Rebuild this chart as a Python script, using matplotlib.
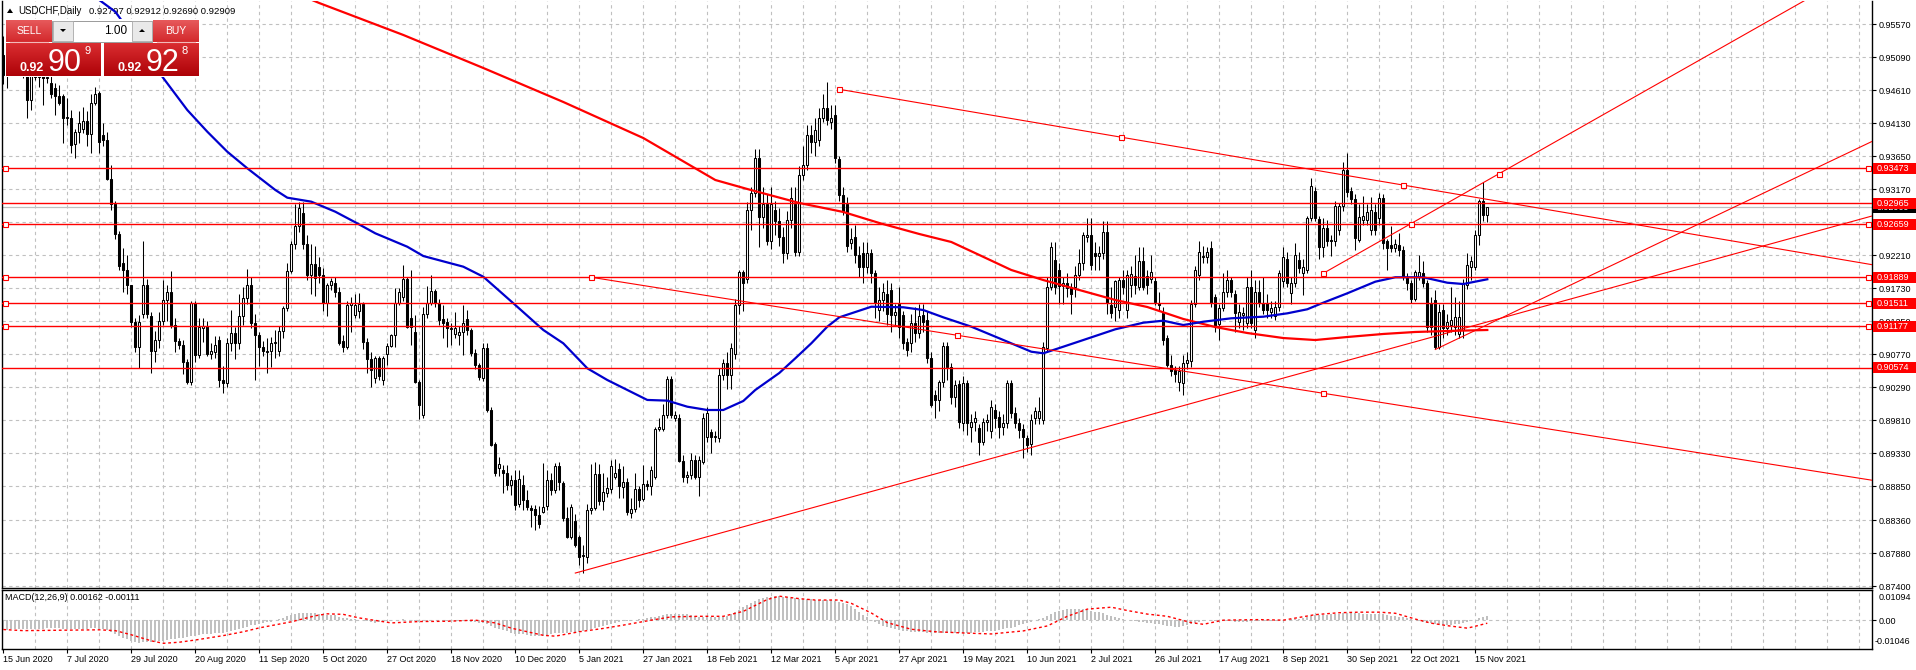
import numpy as np
import matplotlib.pyplot as plt
import matplotlib.transforms as mtransforms
from matplotlib.patches import Rectangle, Polygon

plt.rcParams['font.family'] = ['Liberation Sans', 'DejaVu Sans']

# ---------------- data ----------------
opens = [
    .9512, .9483, .9495, .9505, .9490, .9498, .9495, .9447, .9485, .9480,
    .9482, .9478, .9471, .9464, .9452, .9452, .9420, .9420, .9382, .9400,
    .9404, .9416, .9397, .9442, .9457, .9396, .9389, .9332, .9295, .9252,
    .9209, .9199, .9178, .9124, .9088, .9135, .9177, .9132, .9082, .9098,
    .9125, .9156, .9167, .9119, .9096, .9091, .9066, .9037, .9151, .9076,
    .9115, .9118, .9078, .9081, .9098, .9040, .9035, .9093, .9108, .9093,
    .9132, .9159, .9178, .9122, .9105, .9088, .9081, .9082, .9093, .9082,
    .9111, .9144, .9198, .9237, .9264, .9282, .9237, .9192, .9208, .9204,
    .9192, .9151, .9178, .9180, .9168, .9097, .9088, .9149, .9134, .9140,
    .9150, .9095, .9070, .9042, .9071, .9040, .9077, .9089, .9105, .9152,
    .9160, .9186, .9129, .9110, .9037, .8989, .9136, .9152, .9169, .9151,
    .9128, .9124, .9115, .9106, .9105, .9110, .9128, .9112, .9079, .9061,
    .9042, .9086, .8996, .8946, .8912, .8909, .8904, .8887, .8894, .8859,
    .8887, .8865, .8853, .8852, .8844, .8848, .8856, .8894, .8880, .8914,
    .8890, .8839, .8812, .8834, .8812, .8785, .8783, .8850, .8853, .8903,
    .8863, .8875, .8881, .8899, .8910, .8884, .8892, .8847, .8852, .8881,
    .8866, .8889, .8886, .8899, .8969, .8969, .8989, .9041, .8985, .8985,
    .8922, .8898, .8902, .8923, .8899, .8921, .8957, .8964, .8957, .8956,
    .9047, .9064, .9047, .9078, .9149, .9197, .9186, .9287, .9311, .9362,
    .9277, .9296, .9241, .9287, .9270, .9248, .9224, .9272, .9296, .9226,
    .9338, .9352, .9396, .9386, .9388, .9420, .9435, .9414, .9425, .9361,
    .9309, .9296, .9239, .9248, .9221, .9224, .9204, .9224, .9195, .9141,
    .9156, .9165, .9170, .9134, .9150, .9134, .9095, .9093, .9122, .9108,
    .9134, .9127, .9071, .9018, .9010, .9037, .9089, .9059, .9015, .9034,
    .8977, .9035, .8972, .8979, .8970, .8950, .8979, .8965, .8996, .8986,
    .8972, .8977, .9035, .8991, .8977, .8968, .8955, .8947, .8984, .8984,
    .8982, .9086, .9175, .9214, .9200, .9176, .9180, .9175, .9175, .9192,
    .9209, .9248, .9250, .9224, .9220, .9224, .9255, .9149, .9146, .9141,
    .9185, .9141, .9178, .9191, .9175, .9213, .9191, .9187, .9183, .9152,
    .9137, .9100, .9061, .9054, .9037, .9035, .9064, .9067, .9150, .9192,
    .9219, .9219, .9232, .9160, .9121, .9144, .9167, .9185, .9164, .9124,
    .9134, .9123, .9175, .9112, .9168, .9151, .9151, .9139, .9132, .9146,
    .9183, .9216, .9166, .9180, .9214, .9195, .9200, .9275, .9315, .9273,
    .9233, .9260, .9243, .9241, .9258, .9292, .9345, .9314, .9303, .9243,
    .9272, .9272, .9258, .9284, .9275, .9304, .9241, .9236, .9231, .9236,
    .9229, .9190, .9180, .9158, .9190, .9195, .9180, .9151, .9156, .9088,
    .9141, .9115, .9120, .9117, .9107, .9112, .9178, .9204, .9204, .9250,
    .9300, .92797,
]
highs = [
    .9540, .9510, .9520, .9525, .9515, .9510, .9505, .9500, .9495, .9490,
    .9500, .9490, .9482, .9471, .9468, .9455, .9449, .9432, .9405, .9430,
    .9437, .9430, .9456, .9466, .9459, .9413, .9400, .9352, .9300, .9256,
    .9231, .9221, .9178, .9130, .9134, .9241, .9187, .9139, .9111, .9139,
    .9185, .9178, .9198, .9130, .9101, .9098, .9070, .9154, .9154, .9129,
    .9130, .9126, .9094, .9104, .9104, .9060, .9100, .9142, .9116, .9164,
    .9175, .9201, .9190, .9135, .9110, .9097, .9100, .9102, .9112, .9118,
    .9147, .9210, .9242, .9296, .9298, .9298, .9250, .9237, .9234, .9219,
    .9202, .9180, .9188, .9190, .9175, .9105, .9155, .9160, .9165, .9166,
    .9153, .9100, .9080, .9075, .9075, .9075, .9093, .9107, .9173, .9173,
    .9207, .9190, .9199, .9134, .9040, .9146, .9176, .9192, .9172, .9158,
    .9149, .9130, .9122, .9139, .9118, .9149, .9141, .9115, .9085, .9065,
    .9093, .9093, .9000, .8950, .8928, .8916, .8916, .8901, .8909, .8909,
    .8901, .8880, .8858, .8858, .8856, .8919, .8909, .8904, .8919, .8920,
    .8893, .8855, .8860, .8845, .8815, .8800, .8860, .8918, .8921, .8918,
    .8904, .8899, .8923, .8925, .8919, .8914, .8897, .8868, .8904, .8885,
    .8916, .8894, .8914, .8971, .8985, .9004, .9045, .9045, .8995, .8990,
    .8930, .8908, .8933, .8930, .8929, .8991, .9000, .8969, .8965, .9057,
    .9070, .9081, .9094, .9158, .9200, .9200, .9299, .9320, .9376, .9375,
    .9320, .9310, .9320, .9300, .9290, .9262, .9285, .9320, .9320, .9350,
    .9380, .9410, .9410, .9420, .9435, .9455, .9473, .9440, .9440, .9365,
    .9320, .9305, .9260, .9265, .9235, .9240, .9240, .9230, .9200, .9175,
    .9180, .9185, .9180, .9150, .9175, .9140, .9100, .9135, .9145, .9150,
    .9150, .9140, .9080, .9025, .9040, .9095, .9095, .9065, .9040, .9040,
    .9045, .9040, .8990, .8995, .8975, .8985, .8990, .9010, .9005, .8995,
    .8990, .9040, .9040, .9000, .8985, .8975, .8960, .8990, .9000, .9015,
    .9095, .9190, .9240, .9240, .9210, .9190, .9195, .9180, .9205, .9230,
    .9255, .9275, .9275, .9240, .9235, .9270, .9270, .9175, .9185, .9190,
    .9200, .9200, .9205, .9222, .9233, .9233, .9200, .9221, .9190, .9168,
    .9145, .9105, .9076, .9060, .9060, .9076, .9080, .9156, .9205, .9241,
    .9235, .9233, .9241, .9165, .9150, .9195, .9199, .9190, .9170, .9150,
    .9145, .9190, .9200, .9185, .9185, .9190, .9165, .9155, .9155, .9200,
    .9233, .9225, .9190, .9238, .9225, .9215, .9278, .9333, .9320, .9278,
    .9275, .9272, .9250, .9300, .9297, .9357, .9369, .9320, .9310, .9296,
    .9307, .9296, .9305, .9296, .9311, .9310, .9245, .9263, .9245, .9253,
    .9235, .9195, .9185, .9200, .9222, .9212, .9185, .9160, .9170, .9150,
    .9150, .9135, .9175, .9160, .9155, .9187, .9224, .9220, .9258, .9303,
    .9328, .92912,
]
lows = [
    .9470, .9464, .9485, .9482, .9483, .9478, .9420, .9432, .9476, .9466,
    .9439, .9471, .9450, .9425, .9440, .9384, .9410, .9369, .9362, .9384,
    .9398, .9379, .9369, .9440, .9369, .9380, .9330, .9287, .9245, .9200,
    .9168, .9165, .9116, .9080, .9057, .9130, .9130, .9050, .9066, .9086,
    .9120, .9125, .9115, .9081, .9085, .9049, .9034, .9032, .9066, .9071,
    .9095, .9075, .9070, .9071, .9030, .9020, .9030, .9082, .9070, .9085,
    .9120, .9150, .9115, .9040, .9060, .9075, .9050, .9058, .9072, .9075,
    .9100, .9140, .9195, .9230, .9255, .9230, .9185, .9165, .9162, .9180,
    .9140, .9133, .9170, .9160, .9090, .9080, .9085, .9110, .9130, .9130,
    .9085, .9050, .9030, .9035, .9040, .9032, .9061, .9088, .9088, .9148,
    .9155, .9115, .9090, .9035, .8983, .8984, .9130, .9148, .9145, .9120,
    .9100, .9088, .9090, .9100, .9090, .9076, .9105, .9075, .9056, .9040,
    .9038, .8993, .8943, .8900, .8900, .8875, .8880, .8872, .8850, .8855,
    .8851, .8850, .8826, .8822, .8825, .8846, .8850, .8872, .8875, .8880,
    .8835, .8810, .8808, .8797, .8770, .8759, .8773, .8845, .8850, .8858,
    .8850, .8870, .8876, .8895, .8868, .8868, .8843, .8839, .8848, .8855,
    .8863, .8880, .8873, .8895, .8965, .8965, .8985, .8985, .8980, .8920,
    .8892, .8890, .8895, .8895, .8871, .8918, .8950, .8933, .8950, .8950,
    .9040, .9027, .9026, .9070, .9136, .9140, .9180, .9258, .9305, .9233,
    .9260, .9236, .9230, .9250, .9235, .9210, .9215, .9260, .9220, .9220,
    .9330, .9345, .9370, .9365, .9380, .9415, .9410, .9405, .9355, .9300,
    .9280, .9226, .9230, .9210, .9190, .9180, .9195, .9180, .9130, .9125,
    .9140, .9120, .9110, .9120, .9100, .9085, .9075, .9080, .9095, .9100,
    .9110, .9065, .9000, .8985, .8995, .9030, .9040, .9005, .9000, .8970,
    .8965, .8960, .8950, .8965, .8930, .8945, .8965, .8955, .8970, .8955,
    .8960, .8970, .8985, .8970, .8955, .8926, .8935, .8930, .8975, .8975,
    .8975, .9080, .9170, .9165, .9150, .9150, .9160, .9135, .9160, .9185,
    .9200, .9240, .9200, .9200, .9200, .9215, .9135, .9130, .9125, .9130,
    .9165, .9130, .9160, .9165, .9170, .9170, .9165, .9180, .9149, .9140,
    .9090, .9059, .9045, .9037, .9023, .9018, .9055, .9059, .9145, .9185,
    .9210, .9210, .9145, .9110, .9098, .9140, .9160, .9160, .9110, .9115,
    .9112, .9115, .9115, .9100, .9145, .9135, .9130, .9130, .9127, .9140,
    .9175, .9175, .9150, .9175, .9195, .9163, .9195, .9270, .9270, .9216,
    .9218, .9235, .9220, .9235, .9250, .9285, .9305, .9295, .9229, .9240,
    .9265, .9265, .9250, .9250, .9265, .9230, .9200, .9225, .9225, .9220,
    .9185, .9170, .9151, .9155, .9185, .9175, .9110, .9105, .9084, .9085,
    .9100, .9105, .9110, .9105, .9100, .9100, .9172, .9185, .9200, .9236,
    .9270, .92690,
]
closes = [
    .9483, .9495, .9505, .9490, .9498, .9485, .9447, .9485, .9480, .9482,
    .9478, .9480, .9456, .9452, .9442, .9420, .9422, .9381, .9400, .9413,
    .9416, .9397, .9442, .9455, .9386, .9389, .9332, .9295, .9252, .9206,
    .9199, .9178, .9124, .9088, .9124, .9177, .9135, .9082, .9098, .9125,
    .9156, .9167, .9119, .9096, .9091, .9066, .9037, .9151, .9076, .9117,
    .9118, .9078, .9082, .9091, .9040, .9035, .9093, .9108, .9093, .9132,
    .9159, .9178, .9122, .9105, .9088, .9082, .9082, .9093, .9095, .9111,
    .9144, .9198, .9237, .9264, .9290, .9237, .9192, .9208, .9188, .9192,
    .9151, .9178, .9184, .9168, .9094, .9088, .9149, .9151, .9149, .9150,
    .9095, .9070, .9054, .9071, .9045, .9071, .9089, .9105, .9152, .9168,
    .9186, .9117, .9117, .9037, .9003, .9136, .9152, .9169, .9151, .9127,
    .9123, .9115, .9114, .9115, .9110, .9123, .9112, .9079, .9061, .9044,
    .9086, .8996, .8945, .8905, .8918, .8904, .8887, .8894, .8858, .8896,
    .8865, .8855, .8851, .8843, .8831, .8855, .8894, .8880, .8914, .8892,
    .8839, .8812, .8855, .8800, .8783, .8784, .8850, .8853, .8903, .8863,
    .8877, .8882, .8915, .8905, .8885, .8892, .8848, .8852, .8881, .8865,
    .8889, .8886, .8909, .8969, .8972, .8989, .9041, .8989, .8989, .8922,
    .8898, .8902, .8923, .8899, .8923, .8984, .8991, .8957, .8958, .9047,
    .9064, .9047, .9086, .9149, .9197, .9180, .9287, .9311, .9362, .9277,
    .9296, .9241, .9296, .9270, .9248, .9224, .9272, .9304, .9226, .9338,
    .9352, .9396, .9386, .9403, .9420, .9435, .9418, .9420, .9362, .9309,
    .9285, .9234, .9244, .9221, .9204, .9204, .9224, .9195, .9151, .9156,
    .9168, .9136, .9134, .9139, .9117, .9093, .9083, .9122, .9108, .9132,
    .9124, .9071, .9003, .9010, .9037, .9089, .9059, .9015, .9032, .8979,
    .9035, .8977, .8979, .8985, .8950, .8979, .8982, .9001, .8984, .8972,
    .8977, .9035, .8991, .8977, .8967, .8957, .8945, .8981, .8994, .8994,
    .9088, .9175, .9233, .9175, .9176, .9180, .9173, .9165, .9192, .9209,
    .9250, .9250, .9207, .9220, .9224, .9255, .9151, .9137, .9183, .9185,
    .9175, .9192, .9194, .9178, .9213, .9175, .9178, .9197, .9153, .9149,
    .9098, .9061, .9052, .9049, .9052, .9064, .9069, .9150, .9200, .9226,
    .9220, .9226, .9152, .9117, .9144, .9167, .9185, .9168, .9137, .9139,
    .9137, .9175, .9123, .9168, .9151, .9141, .9141, .9144, .9146, .9195,
    .9219, .9180, .9181, .9221, .9202, .9204, .9275, .9322, .9275, .9233,
    .9260, .9241, .9241, .9292, .9293, .9345, .9313, .9303, .9246, .9277,
    .9278, .9284, .9287, .9258, .9304, .9238, .9231, .9231, .9237, .9229,
    .9190, .9180, .9158, .9197, .9197, .9180, .9117, .9117, .9087, .9139,
    .9115, .9124, .9127, .9131, .9131, .9180, .9207, .9212, .9250, .9300,
    .9279, .92909,
]

# moving averages, sampled along the drawn curves (bar index, price)
red_ma_i = [70, 79, 100, 120, 140, 160, 178, 186, 199, 210, 219, 229, 237, 244, 252,
            260, 269, 278, 286, 295, 303, 311, 320, 328, 336, 345, 353, 361, 371]
red_ma_p = [.96094, .95875, .95411, .94931, .94437, .93913, .93303, .93172, .92969,
            .92838, .92678, .92518, .92402, .92213, .91995, .91849, .91704, .91559,
            .91457, .91283, .91166, .91079, .91006, .90977, .91021, .91065, .91094,
            .91108, .91123]
blue_ma_i = [24, 28, 40, 46, 51, 56, 61, 68, 71, 77, 83, 88, 93, 101, 105, 115, 120,
             128, 135, 140, 146, 151, 156, 161, 166, 171, 176, 180, 185, 188, 194, 198,
             202, 206, 209, 217, 225, 230, 235, 242, 249, 257, 260, 265, 270, 278, 285,
             290, 295, 300, 307, 315, 321, 326, 330, 336, 343, 348, 355, 361, 365, 371]
blue_ma_p = [.95919, .95749, .94785, .94320, .94005, .93714, .93473, .93158, .93046,
             .92988, .92842, .92688, .92528, .92333, .92198, .92043, .91897, .91486,
             .91123, .90929, .90566, .90396, .90251, .90106, .90096, .90008, .89960,
             .89960, .90091, .90251, .90498, .90711, .90929, .91171, .91307, .91461,
             .91453, .91413, .91307, .91171, .91002, .90807, .90784, .90880, .90977,
             .91133, .91229, .91258, .91195, .91243, .91293, .91316, .91365, .91424,
             .91520, .91656, .91825, .91889, .91889, .91810, .91791, .91860]

# MACD main (histogram), units of 1e-3, one value per bar
macd_main = [
    -3.4, -3.4, -3.3, -3.3, -3.2, -3.2, -3.3, -3.3, -3.2, -3.2, -3.1, -3.0, -3.0, -3.0, -3.0, -3.1,
    -3.1, -3.2, -3.3, -3.3, -3.2, -3.1, -3.0, -3.0, -3.1, -3.3, -3.7, -4.3, -5.0, -5.8, -6.5, -7.0,
    -7.6, -8.0, -8.2, -8.1, -8.0, -8.0, -7.8, -7.6, -7.4, -7.1, -6.9, -6.7, -6.5, -6.3, -6.2, -5.8,
    -5.6, -5.3, -5.1, -5.0, -4.9, -4.8, -4.8, -4.7, -4.3, -4.0, -3.6, -3.2, -2.8, -2.3, -1.9, -1.7,
    -1.5, -1.1, -0.8, -0.5, -0.1, 0.3, 0.8, 1.4, 1.9, 2.2, 2.5, 2.6, 2.6, 2.5, 2.5, 2.4,
    2.2, 2.0, 1.8, 1.7, 1.3, 0.9, 0.7, 0.5, 0.4, 0.2, -0.1, -0.4, -0.7, -0.9, -0.8, -0.6,
    -0.4, -0.3, 0.0, 0.2, 0.4, 0.2, 0.0, -0.4, -0.7, -0.4, -0.2, 0.0, 0.0, -0.1, -0.2, -0.3,
    -0.3, -0.3, -0.3, -0.3, -0.4, -0.6, -0.8, -1.0, -1.0, -1.5, -2.1, -2.8, -3.3, -3.7, -4.1, -4.5,
    -4.9, -5.0, -5.2, -5.4, -5.6, -5.7, -5.8, -5.6, -5.3, -5.1, -4.8, -4.6, -4.6, -4.6, -4.4, -4.4,
    -4.2, -4.0, -3.7, -3.3, -2.9, -2.5, -2.1, -1.7, -1.3, -1.0, -0.7, -0.4, -0.2, 0.0, 0.2, 0.4,
    0.6, 0.8, 1.0, 1.3, 1.6, 1.9, 2.1, 2.2, 2.3, 2.3, 2.2, 2.1, 1.8, 1.5, 1.2, 1.1,
    1.0, 1.0, 1.0, 1.0, 1.2, 1.6, 2.2, 2.9, 3.8, 4.6, 5.4, 6.2, 6.9, 7.5, 7.9, 8.3,
    8.5, 8.6, 8.6, 8.5, 8.3, 8.1, 7.9, 7.8, 7.7, 7.6, 7.5, 7.4, 7.3, 7.3, 7.3, 7.2,
    7.0, 6.6, 6.2, 5.7, 5.0, 4.1, 3.1, 2.0, 1.0, 0.0, -0.8, -1.5, -2.1, -2.6, -3.0, -3.3,
    -3.6, -3.9, -4.1, -4.2, -4.3, -4.4, -4.4, -4.5, -4.6, -4.6, -4.6, -4.5, -4.5, -4.5, -4.5, -4.6,
    -4.6, -4.5, -4.5, -4.4, -4.3, -4.2, -4.1, -4.0, -3.8, -3.6, -3.3, -3.0, -2.7, -2.3, -1.9, -1.5,
    -1.0, -0.5, 0.0, 0.4, 0.9, 1.6, 2.4, 3.0, 3.4, 3.7, 3.9, 4.0, 4.0, 4.0, 3.9, 3.7,
    3.4, 3.1, 2.8, 2.5, 2.0, 1.5, 1.1, 0.8, 0.5, 0.2, -0.1, -0.4, -0.6, -0.8, -1.0, -1.1,
    -1.3, -1.5, -1.7, -2.0, -2.2, -2.3, -2.3, -2.2, -1.9, -1.5, -1.0, -0.6, -0.3, -0.1, -0.1, -0.3,
    -0.4, -0.4, -0.4, -0.4, -0.5, -0.5, -0.5, -0.5, -0.4, -0.4, -0.4, -0.4, -0.4, -0.4, -0.4, -0.3,
    -0.1, 0.1, 0.3, 0.5, 0.6, 0.7, 1.0, 1.5, 1.8, 1.9, 2.0, 2.0, 2.1, 2.2, 2.3, 2.5,
    2.6, 2.6, 2.5, 2.5, 2.4, 2.4, 2.3, 2.3, 2.3, 2.1, 1.8, 1.6, 1.4, 1.2, 1.0, 0.7,
    0.3, 0.0, -0.3, -0.6, -0.9, -1.2, -1.5, -1.6, -1.6, -1.6, -1.6, -1.5, -1.4, -1.2, -0.8, -0.4,
    0.2, 0.8, 1.3, 1.62,
]
sig_i = [0, 5, 24, 28, 32, 37, 40, 44, 48, 55, 60, 64, 72, 78, 81, 85, 89, 97, 104, 111,
         118, 123, 127, 135, 138, 144, 150, 155, 162, 167, 174, 180, 185, 191, 194, 199, 203,
         209, 212, 217, 221, 227, 233, 241, 247, 255, 261, 266, 271, 277, 281, 286, 291, 297,
         300, 305, 314, 320, 328, 334, 339, 344, 348, 353, 357, 361, 366, 368, 371]
sig_v = [-3.4, -3.8, -3.5, -3.8, -5.3, -7.5, -8.4, -8.0, -7.2, -5.6, -4.2, -2.8, -0.6, 1.6,
         2.3, 2.1, 0.8, -1.0, -0.5, -0.4, 0.0, -1.0, -2.9, -5.5, -5.8, -4.2, -3.0, -1.8, 0.0,
         1.2, 1.4, 1.4, 3.2, 7.5, 8.7, 7.8, 7.3, 7.3, 6.1, 2.6, -0.9, -3.3, -4.2, -4.7, -5.0,
         -3.9, -2.1, 1.4, 4.0, 4.7, 3.5, 2.2, 1.4, -0.9, -1.5, 0.0, 0.2, 0.0, 2.0, 2.7, 2.9,
         2.9, 2.5, 0.4, -1.1, -2.0, -2.9, -2.2, -1.1]

# horizontal levels and the ones that show anchor squares
levels = [0.93473, 0.92965, 0.92659, 0.91889, 0.91511, 0.91177, 0.90574]
level_sq = [True, False, True, True, True, True, False]
bid = 0.92909

# trend lines: (bar1, price1, bar2, price2, squares)
trend = [
    (143, 0.87590, 371, 0.91240, False),
    (209, 0.94621, 350, 0.93229, True),
    (147, 0.91889, 330, 0.90203, True),
    (330, 0.91947, 373.8, 0.93390, True),
    (358, 0.90840, 371, 0.91200, False),
]

price_ticks = ['0.95570', '0.95090', '0.94610', '0.94130', '0.93650', '0.93170', '0.92690',
               '0.92210', '0.91730', '0.91250', '0.90770', '0.90290', '0.89810', '0.89330',
               '0.88850', '0.88360', '0.87880', '0.87400']
date_labels = ['15 Jun 2020', '7 Jul 2020', '29 Jul 2020', '20 Aug 2020', '11 Sep 2020',
               '5 Oct 2020', '27 Oct 2020', '18 Nov 2020', '10 Dec 2020', '5 Jan 2021',
               '27 Jan 2021', '18 Feb 2021', '12 Mar 2021', '5 Apr 2021', '27 Apr 2021',
               '19 May 2021', '10 Jun 2021', '2 Jul 2021', '26 Jul 2021', '17 Aug 2021',
               '8 Sep 2021', '30 Sep 2021', '22 Oct 2021', '15 Nov 2021']

# ---------------- figure ----------------
W, H = 1916, 670
fig = plt.figure(figsize=(W / 100, H / 100), dpi=100)
PX = mtransforms.Affine2D().scale(1.0 / W, -1.0 / H).translate(0, 1) + fig.transFigure

def px_axes(x0, y0, x1, y1):
    return fig.add_axes([x0 / W, 1 - y1 / H, (x1 - x0) / W, (y1 - y0) / H])

XMIN, XMAX = -0.325, 467.175
GRID = dict(color='#c0c0c0', lw=0.8, ls=(0, (3, 3)))
FS = 6.5

ax = px_axes(2, 1, 1872, 588)
ax2 = px_axes(2, 590, 1872, 649)

# --- main panel
ax.set_xlim(XMIN, XMAX)
ax.set_ylim(0.873727, 0.959047)
ax.spines['top'].set_visible(False)
for s in ['left', 'right', 'bottom']:
    ax.spines[s].set_linewidth(1.0)
ax.set_xticks([])
ax.yaxis.tick_right()
ax.set_yticks([float(t) for t in price_ticks])
ax.set_yticklabels(price_ticks)
ax.tick_params(axis='y', length=3, width=0.8, pad=1.5, labelsize=FS)
for t in [float(t) for t in price_ticks]:
    ax.axhline(t, zorder=0.5, **GRID)
for g in range(8, 468, 8):
    ax.axvline(g, zorder=0.5, **GRID)

ax.axhline(bid, color='#c0c0c0', lw=0.9, zorder=1)

idx = np.arange(len(closes))
o = np.array(opens); h = np.array(highs); l = np.array(lows); c = np.array(closes)
up = c >= o
ax.vlines(idx, l, h, color='black', lw=0.75, zorder=2)
ax.bar(idx[up], (c - o)[up], bottom=o[up], width=0.5, facecolor='white',
       edgecolor='black', linewidth=0.75, zorder=3)
ax.bar(idx[~up], (o - c)[~up], bottom=c[~up], width=0.5, facecolor='black',
       edgecolor='black', linewidth=0.75, zorder=3)

ax.plot(red_ma_i, red_ma_p, color='red', lw=1.6, zorder=4)
ax.plot(blue_ma_i, blue_ma_p, color='#0000cd', lw=1.6, zorder=4)

sq = dict(marker='s', ms=3.6, mfc='white', mec='red', mew=0.8, ls='none', zorder=7)
for p, s in zip(levels, level_sq):
    ax.axhline(p, color='red', lw=1.0, zorder=5)
    if s:
        ax.plot([0.5, 466.05], [p, p], clip_on=False, **sq)

for i1, p1, i2, p2, s in trend:
    k = (p2 - p1) / (i2 - i1)
    ax.plot([i1, XMAX], [p1, p1 + k * (XMAX - i1)], color='red', lw=0.8, zorder=6)
    if s:
        ax.plot([i1, (i1 + i2) / 2, i2], [p1, (p1 + p2) / 2, p2], **sq)

# price labels on the right scale
BT = mtransforms.blended_transform_factory(ax.transAxes, ax.transData)
hh = 5.5 / 6880
ax.add_patch(Rectangle((1.0005, bid - hh), 0.024, 2 * hh, transform=BT, fc='black',
                       ec='none', clip_on=False, zorder=9))
ax.text(1.0025, bid, '%.5f' % bid, transform=BT, color='white', fontsize=FS,
        va='center', ha='left', clip_on=False, zorder=9.5)
for p in levels:
    ax.add_patch(Rectangle((1.0005, p - hh), 0.024, 2 * hh, transform=BT, fc='red',
                           ec='none', clip_on=False, zorder=10))
    ax.text(1.0025, p, '%.5f' % p, transform=BT, color='white', fontsize=FS,
            va='center', ha='left', clip_on=False, zorder=11)

# title (sits under the indicator lines)
ax.add_patch(Polygon([(7, 13), (13, 13), (10, 8.5)], closed=True, transform=PX,
                     fc='black', ec='none', clip_on=False, zorder=1))
ax.text(18, 11, 'USDCHF,Daily', transform=PX, fontsize=7, va='center', ha='left', zorder=1)
ax.text(89, 11, '0.92797 0.92912 0.92690 0.92909', transform=PX, fontsize=6.8,
        va='center', ha='left', zorder=1)

# one-click trading panel
def grad_box(x0, y0, x1, y1, top, bot):
    n = int(round(y1 - y0))
    t = np.array(plt.matplotlib.colors.to_rgb(top))
    b = np.array(plt.matplotlib.colors.to_rgb(bot))
    for k in range(n):
        col = t + (b - t) * k / max(n - 1, 1)
        ax.add_patch(Rectangle((x0, y0 + k), x1 - x0, 1.1, transform=PX, fc=col,
                               ec='none', clip_on=False, zorder=20))

ax.add_patch(Rectangle((5, 19), 195, 58, transform=PX, fc='white', ec='none',
                       clip_on=False, zorder=19.5))
grad_box(6, 20, 52, 42, '#e6585a', '#d3292c')
grad_box(153, 20, 199, 42, '#e6585a', '#d3292c')
grad_box(6, 43, 101, 76, '#d92c30', '#ad0207')
grad_box(104, 43, 199, 76, '#d92c30', '#ad0207')
ax.add_patch(Rectangle((52.5, 20.5), 100, 21, transform=PX, fc='white', ec='#9a9a9a',
                       lw=0.7, clip_on=False, zorder=20))
for bx in (53, 132):
    ax.add_patch(Rectangle((bx, 21), 20, 20, transform=PX, fc='#e9e9e9', ec='#a8a8a8',
                           lw=0.6, clip_on=False, zorder=20.5))
ax.add_patch(Polygon([(60, 29), (66, 29), (63, 32)], closed=True, transform=PX,
                     fc='black', ec='none', clip_on=False, zorder=21))
ax.add_patch(Polygon([(139, 32), (145, 32), (142, 29)], closed=True, transform=PX,
                     fc='black', ec='none', clip_on=False, zorder=21))
for x0, x1 in ((10, 48), (157, 195)):
    ax.plot([x0, x1], [41.5, 41.5], transform=PX, color='#f2b9b9', lw=0.8,
            clip_on=False, zorder=21)

TXT = dict(transform=PX, color='white', clip_on=False, zorder=22)
ax.text(29, 31, 'SELL', fontsize=7.5, ha='center', va='center', **TXT)
ax.text(176, 31, 'BUY', fontsize=7.5, ha='center', va='center', **TXT)
ax.text(127, 31, '1.00', fontsize=8.5, ha='right', va='center', transform=PX,
        color='black', clip_on=False, zorder=22)
ax.text(20, 71, '0.92', fontsize=9, fontweight='bold', ha='left', va='baseline', **TXT)
ax.text(48, 71, '90', fontsize=22, ha='left', va='baseline', **TXT)
ax.text(85, 46.5, '9', fontsize=8, ha='left', va='top', **TXT)
ax.text(118, 71, '0.92', fontsize=9, fontweight='bold', ha='left', va='baseline', **TXT)
ax.text(146, 71, '92', fontsize=22, ha='left', va='baseline', **TXT)
ax.text(182, 46.5, '8', fontsize=8, ha='left', va='top', **TXT)

# --- MACD panel
ax2.set_xlim(XMIN, XMAX)
ax2.set_ylim(-0.01046, 0.01094)
for s in ax2.spines.values():
    s.set_linewidth(1.0)
for g in range(8, 468, 8):
    ax2.axvline(g, zorder=0.5, **GRID)
ax2.axhline(0, zorder=0.5, **GRID)
ax2.bar(idx, np.array(macd_main) * 1e-3, width=0.5, color='#c0c0c0', lw=0, zorder=2)
ax2.plot(sig_i, np.array(sig_v) * 1e-3, color='red', lw=1.0, ls=(0, (2, 2)), zorder=3)
ax2.text(5, 598, 'MACD(12,26,9) 0.00162 -0.00111', transform=PX,
         fontsize=FS, va='center', ha='left')

ax2.yaxis.tick_right()
ax2.set_yticks([0.0])
ax2.set_yticklabels(['0.00'])
ax2.tick_params(axis='y', length=3, width=0.8, pad=1.5, labelsize=FS)
ax2.text(1.0035, 0.87, '0.01094', transform=ax2.transAxes, fontsize=FS, va='center', ha='left')
ax2.text(1.0015, 0.12, '-0.01046', transform=ax2.transAxes, fontsize=FS, va='center', ha='left')

ax2.set_xticks(list(range(0, 372, 16)))
ax2.set_xticklabels(date_labels)
ax2.tick_params(axis='x', length=3, width=0.8, pad=1.5, labelsize=FS)
for lab in ax2.get_xticklabels():
    lab.set_ha('left')

fig.savefig('out.png', dpi=100, facecolor='white')
